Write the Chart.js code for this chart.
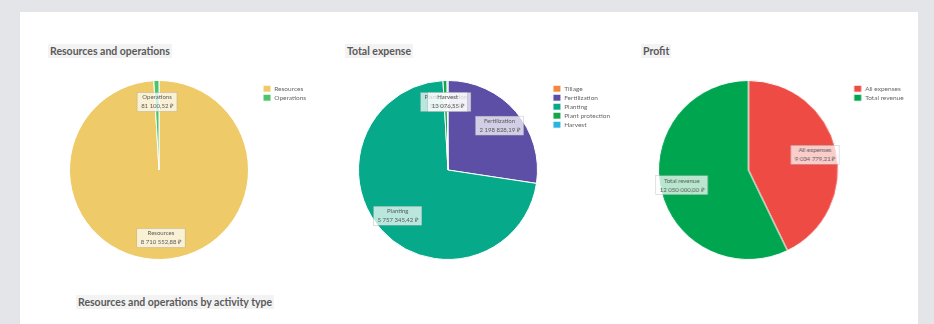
<!DOCTYPE html>
<html>
<head>
<meta charset="utf-8">
<script src="https://cdn.jsdelivr.net/npm/chart.js@4.4.1/dist/chart.umd.min.js"></script>
<style>
  html, body { margin:0; padding:0; width:934px; height:324px; overflow:hidden; background:#e4e5e9; font-family: Lato, "Open Sans", sans-serif; }
  #panel { position:absolute; left:20px; top:12px; width:898px; height:320px; background:#ffffff; }
  .title { position:absolute; font-size:10.5px; font-weight:bold; color:#5a5a5a; background:#f3f3f3; padding:0 2px; line-height:14px; }
  .box { position:absolute; height:180px; }
  .box canvas { display:block; }
</style>
</head>
<body>
<div id="panel"></div>
<div class="title" style="left:48px; top:44px;">Resources and operations</div>
<div class="title" style="left:345px; top:44px;">Total expense</div>
<div class="title" style="left:641px; top:44px;">Profit</div>
<div class="title" style="left:76px; top:295px;">Resources and operations by activity type</div>

<div class="box" id="b1" style="left:57px; top:80px; width:300px;"><canvas id="c1"></canvas></div>
<div class="box" id="b2" style="left:345px; top:80px; width:300px;"><canvas id="c2"></canvas></div>
<div class="box" id="b3" style="left:645px; top:80px; width:300px;"><canvas id="c3"></canvas></div>

<script>
// ---- data ----
const resLabels = ["Resources", "Operations"];
const resValues = [8710552.88, 81100.52];
const resColors = ["#eecb68", "#4cc46c"];

const expLabels = ["Tillage", "Fertilization", "Planting", "Plant protection", "Harvest"];
const expValues = [0, 2198828.19, 5757345.42, 58400.00, 13076.55];
const expColors = ["#f28a3c", "#5d4fa6", "#06a98a", "#17a44c", "#2ab4e2"];

const profLabels = ["All expenses", "Total revenue"];
const profValues = [9034779.21, 12050000.00];
const profColors = ["#ee4b44", "#00a64f"];

// desired chart-area widths (pie area) per chart
const areaWidths = { c1: 204, c2: 206, c3: 206 };

function fmt(v) {
  const parts = v.toFixed(2).split(".");
  const int = parts[0].replace(/\B(?=(\d{3})+(?!\d))/g, " ");
  return int + "," + parts[1] + " \u20BD";
}

const sliceLabelPlugin = {
  id: "sliceLabels",
  afterDatasetsDraw(chart) {
    const ctx = chart.ctx;
    const meta = chart.getDatasetMeta(0);
    const ds = chart.data.datasets[0];
    meta.data.forEach((arc, i) => {
      const v = ds.data[i];
      if (!v) return;
      const p = arc.getProps(["x", "y", "startAngle", "endAngle", "outerRadius"], true);
      const mid = (p.startAngle + p.endAngle) / 2;
      const r = p.outerRadius * 0.76;
      const x = p.x + Math.cos(mid) * r;
      const y = p.y + Math.sin(mid) * r;
      const l1 = chart.data.labels[i];
      const l2 = fmt(v);
      ctx.save();
      ctx.font = "6px Lato, sans-serif";
      const w = Math.max(ctx.measureText(l1).width, ctx.measureText(l2).width) + 8;
      const h = 19;
      ctx.fillStyle = "rgba(255,255,255,0.72)";
      ctx.fillRect(x - w / 2, y - h / 2, w, h);
      ctx.strokeStyle = "rgba(150,150,150,0.6)";
      ctx.lineWidth = 0.5;
      ctx.strokeRect(x - w / 2, y - h / 2, w, h);
      ctx.fillStyle = "#5a5a5a";
      ctx.textAlign = "center";
      ctx.textBaseline = "middle";
      ctx.fillText(l1, x, y - 4.5);
      ctx.fillText(l2, x, y + 4.5);
      ctx.restore();
    });
  }
};

function makePie(id, labels, values, colors) {
  const chart = new Chart(document.getElementById(id), {
    type: "pie",
    data: {
      labels: labels,
      datasets: [{
        data: values,
        backgroundColor: colors,
        borderColor: "#ffffff",
        borderWidth: 1
      }]
    },
    options: {
      responsive: true,
      maintainAspectRatio: false,
      animation: false,
      layout: { padding: 0 },
      plugins: {
        tooltip: { enabled: false },
        legend: {
          position: "right",
          align: "start",
          title: { display: true, text: "", padding: { top: 2, bottom: 0 }, font: { size: 1 } },
          labels: {
            boxWidth: 8,
            boxHeight: 7,
            padding: 2,
            color: "#666",
            font: { size: 6.5, family: "Lato, sans-serif" }
          }
        }
      }
    },
    plugins: [sliceLabelPlugin]
  });
  // size the container so the pie area has the wanted width
  const lw = chart.legend.width;
  const box = chart.canvas.parentNode;
  box.style.width = (areaWidths[id] + lw) + "px";
  chart.resize();
  return chart;
}

makePie("c1", resLabels, resValues, resColors);
makePie("c2", expLabels, expValues, expColors);
makePie("c3", profLabels, profValues, profColors);
</script>
</body>
</html>
